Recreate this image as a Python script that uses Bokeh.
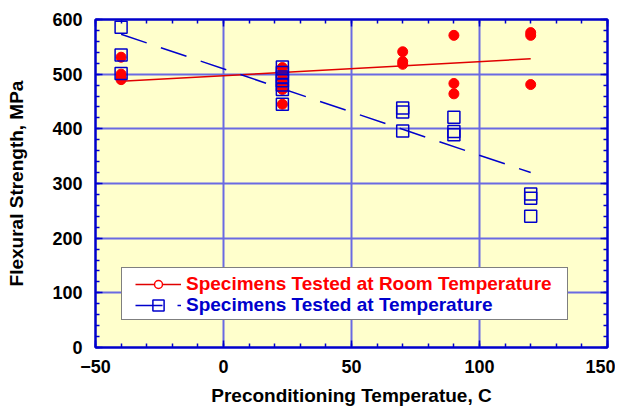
from bokeh.plotting import figure
from bokeh.models import (Range1d, LinearAxis, Legend, LegendItem,
                          SingleIntervalTicker, FixedTicker)
from bokeh.embed import file_html
from bokeh.resources import INLINE

# ---------------- data ----------------
room_x = [-40, -40, -40, -40, 23, 23, 23, 23, 23, 23, 70, 70, 70, 90, 90, 90, 120, 120, 120]
room_y = [531, 500, 494, 490, 512, 500, 490, 480, 472, 445, 541, 523, 518, 571, 483, 464, 576, 571, 481]

atemp_x = [-40, -40, -40, 23, 23, 23, 23, 23, 23, 23, 70, 70, 70, 90, 90, 90, 120, 120, 120]
atemp_y = [586, 535, 501, 513, 503, 495, 488, 480, 472, 445, 438, 431, 396, 421, 395, 389, 281, 273, 240]

fit_x = [-40, 120]
room_fit = [487, 528]
atemp_fit = [573, 320]

room_label = "Specimens Tested at Room Temperature"
atemp_label = "Specimens Tested at Temperature"
x_title = "Preconditioning Temperatue, C"
y_title = "Flexural Strength, MPa"

NAN = float("nan")

RED = "#ff0000"
BLUE = "#0000cc"
AXC = "#0000cc"
FONT = "Liberation Sans"

p = figure(frame_width=512, frame_height=328,
           x_range=Range1d(-50, 150), y_range=Range1d(0, 600),
           output_backend="svg", toolbar_location=None,
           min_border_left=95, min_border_top=19, min_border_right=8, min_border_bottom=40,
           background_fill_color="#ffffcc", border_fill_color="white",
           outline_line_color=AXC, outline_line_width=2)

xax = p.below[0]
yax = p.left[0]

# grid
p.xgrid.ticker = FixedTicker(ticks=[0, 50, 100])
p.ygrid.ticker = FixedTicker(ticks=[100, 200, 300, 400, 500])
for g in (p.xgrid, p.ygrid):
    g.grid_line_color = "#6a6ae2"
    g.grid_line_width = 2

xt = SingleIntervalTicker(interval=50, num_minor_ticks=5)
yt = SingleIntervalTicker(interval=100, num_minor_ticks=5)
xax.ticker = xt
yax.ticker = yt

top = LinearAxis(ticker=xt)
right = LinearAxis(ticker=yt)
p.add_layout(top, "above")
p.add_layout(right, "right")

for ax in (xax, yax, top, right):
    ax.axis_line_color = AXC
    ax.axis_line_width = 2
    ax.major_tick_line_color = AXC
    ax.minor_tick_line_color = AXC
    ax.major_tick_line_width = 1.5
    ax.minor_tick_line_width = 1.5
    ax.major_tick_in = 7
    ax.major_tick_out = 0
    ax.minor_tick_in = 4
    ax.minor_tick_out = 0
    ax.major_label_text_font = FONT
    ax.major_label_text_font_style = "bold"
    ax.major_label_text_font_size = "18px"
    ax.major_label_text_color = "black"
    ax.axis_label_text_font = FONT
    ax.axis_label_text_font_style = "bold"
    ax.axis_label_text_font_size = "19px"
    ax.axis_label_text_color = "black"

for ax in (top, right):
    ax.major_label_text_font_size = "1px"
    ax.major_label_text_color = None
    ax.major_label_standoff = 0

xax.axis_label = x_title
yax.axis_label = y_title
xax.major_label_standoff = 12
xax.axis_label_standoff = 9
yax.major_label_standoff = 13
yax.axis_label_standoff = 22

# fit lines
room_line = p.line(fit_x, room_fit, line_color="#e00000", line_width=1.5)
atemp_line = p.line(fit_x, atemp_fit, line_color=BLUE, line_width=1.5, line_dash="27 15")

# points
p.scatter(room_x, room_y, marker="circle", size=10, fill_color=RED, line_color=RED)
p.scatter(atemp_x, atemp_y, marker="square", size=12, fill_color=None,
          line_color=BLUE, line_width=1.5)

# legend helpers (NaN data: not drawn in plot, only in legends)
room_mark = p.scatter(x=[NAN], y=[NAN], marker="circle", fill_color="white",
                      line_color=RED, line_width=1.5)
atemp_mark = p.scatter(x=[NAN], y=[NAN], marker="square", fill_color=None,
                       line_color=BLUE, line_width=1.5)
ghost = p.line(x=[NAN], y=[NAN], line_alpha=0)

# legend box
box = Legend(items=[LegendItem(label=" ", renderers=[ghost]),
                    LegendItem(label=" ", renderers=[ghost])],
             location=(26, 27), margin=0, padding=5, spacing=1,
             glyph_width=20, glyph_height=20, label_height=20, label_width=410,
             label_standoff=5, label_text_font_size="10px",
             border_line_color="black", border_line_width=1.5,
             background_fill_color="white", background_fill_alpha=1)
p.add_layout(box, "center")

leg_room = Legend(items=[LegendItem(label=room_label, renderers=[room_line, room_mark])],
                  location=(40, 52), margin=0, padding=0, spacing=0,
                  glyph_width=46, glyph_height=20, label_height=20, label_standoff=5,
                  label_text_font=FONT, label_text_font_style="bold",
                  label_text_font_size="19px", label_text_color=RED,
                  border_line_color=None, background_fill_alpha=0)
p.add_layout(leg_room, "center")

leg_atemp = Legend(items=[LegendItem(label=atemp_label, renderers=[atemp_mark, atemp_line])],
                   location=(40, 28), margin=0, padding=0, spacing=0,
                   glyph_width=46, glyph_height=28, label_height=20, label_standoff=5,
                   label_text_font=FONT, label_text_font_style="bold",
                   label_text_font_size="19px", label_text_color=BLUE,
                   border_line_color=None, background_fill_alpha=0)
p.add_layout(leg_atemp, "center")

open("out.html", "w").write(file_html(p, INLINE))
